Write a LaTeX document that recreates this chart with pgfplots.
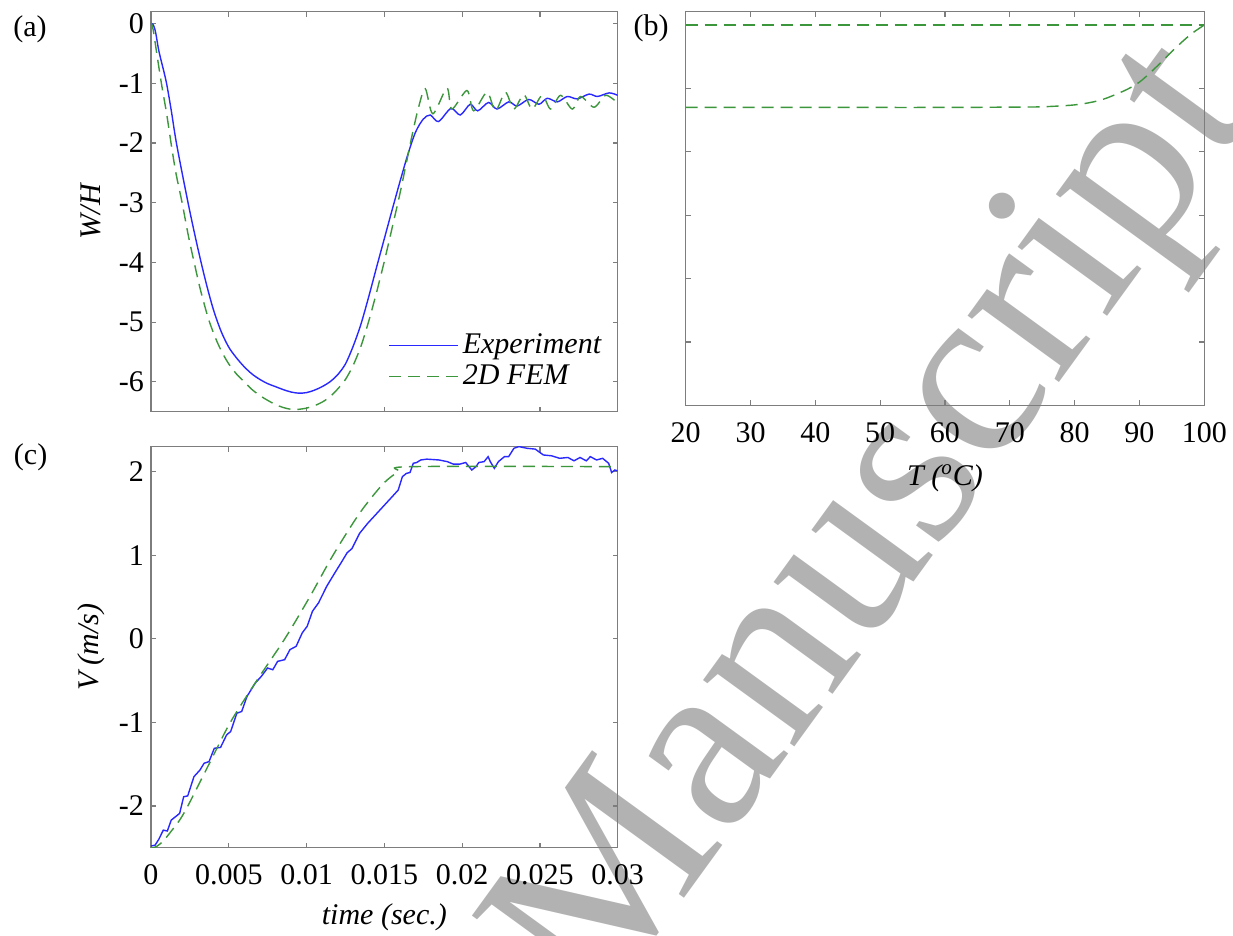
\documentclass[border=0pt]{standalone}
\usepackage{fontspec}
\setmainfont{Liberation Serif}
\usepackage{pgfplots}
\pgfplotsset{compat=1.18}
\definecolor{mblue}{RGB}{40,40,255}
\definecolor{mgreen}{RGB}{60,150,60}
\definecolor{frame}{RGB}{125,125,125}

\pgfplotsset{
  every axis/.append style={
    scale only axis,
    axis line style={frame, line width=0.6pt},
    tick style={frame, line width=0.6pt},
    major tick length=2.5pt,
    tick align=inside,
    scaled ticks=false,
    tick label style={font=\fontsize{15}{18}\selectfont},
    label style={font=\fontsize{15}{18}\selectfont\itshape},
    xticklabel style={yshift=-5pt},
  },
  blueline/.style={color=mblue, line width=0.7pt},
  greenline/.style={color=mgreen, line width=0.7pt, dash pattern=on 6pt off 3.5pt},
}

\begin{document}
\begin{tikzpicture}
\useasboundingbox (0pt,0pt) rectangle (616.5pt,-468pt);
\begin{scope}
\clip (0pt,0pt) rectangle (616.5pt,-468pt);
\node[rotate=54, text=black!30, font=\fontsize{123}{123}\selectfont, inner sep=0pt] at (441.5pt,-265.5pt) {Manuscript};
\end{scope}

% ---------------- (a) ----------------
\begin{axis}[
  at={(75.5pt,-205.85pt)}, anchor=south west,
  width=233.35pt, height=200pt,
  xmin=0, xmax=0.03, ymin=-6.5, ymax=0.2,
  xtick={0,0.005,0.01,0.015,0.02,0.025,0.03}, xticklabels={},
  ytick={-6,-5,-4,-3,-2,-1,0}, yticklabels={-6,-5,-4,-3,-2,-1,0},
  ylabel={W/H}, ylabel style={yshift=2pt},
  legend style={at={(0.495,0.215)}, anchor=north west, draw=none, fill=none,
    font=\fontsize{15}{18}\selectfont\itshape, cells={anchor=west}, row sep=0pt},
  legend image code/.code={\draw[#1] (0pt,0pt) -- (34.5pt,0pt);},
]
\addplot[blueline, smooth] coordinates {
(0,0) (0.00015,-0.02) (0.0003,-0.15) (0.0005,-0.45) (0.00075,-0.72) (0.001,-1.0)
(0.0013,-1.45) (0.0016,-1.95) (0.002,-2.5) (0.0025,-3.15) (0.003,-3.75) (0.0035,-4.3)
(0.004,-4.78) (0.0045,-5.15) (0.005,-5.42) (0.0055,-5.6) (0.006,-5.75) (0.0065,-5.87)
(0.007,-5.96) (0.0075,-6.03) (0.008,-6.08) (0.0085,-6.13) (0.009,-6.17) (0.0095,-6.19)
(0.01,-6.18) (0.0105,-6.14) (0.011,-6.08) (0.0115,-6.0) (0.012,-5.88) (0.0125,-5.7)
(0.013,-5.4) (0.0135,-5.03) (0.014,-4.57) (0.0145,-4.08) (0.015,-3.6) (0.0155,-3.12)
(0.016,-2.65) (0.0165,-2.2) (0.017,-1.82) (0.0175,-1.6) (0.01795,-1.53) (0.01848,-1.64)
(0.01928,-1.42) (0.01988,-1.53) (0.02052,-1.35) (0.0210,-1.46) (0.0217,-1.32) (0.02224,-1.43)
(0.0230,-1.31) (0.02353,-1.38) (0.02428,-1.27) (0.02494,-1.35) (0.02547,-1.25) (0.02612,-1.31)
(0.02676,-1.22) (0.0274,-1.26) (0.02816,-1.18) (0.0287,-1.22) (0.02945,-1.16) (0.03,-1.2)
};
\addlegendentry{Experiment}
\addplot[greenline, smooth] coordinates {
(0,0.02) (0.0001,-0.05) (0.0002,-0.2) (0.0004,-0.55) (0.0007,-1.05) (0.001,-1.5)
(0.0013,-2.02) (0.0016,-2.5) (0.002,-3.0) (0.0024,-3.55) (0.0028,-4.03) (0.0032,-4.48)
(0.0037,-4.95) (0.0042,-5.3) (0.0046,-5.52) (0.005,-5.7) (0.0055,-5.87) (0.006,-6.0)
(0.0065,-6.13) (0.007,-6.23) (0.0075,-6.31) (0.008,-6.38) (0.0085,-6.43) (0.009,-6.46)
(0.0095,-6.46) (0.01,-6.44) (0.0105,-6.4) (0.011,-6.34) (0.0115,-6.25) (0.012,-6.12)
(0.0125,-5.96) (0.013,-5.72) (0.0135,-5.4) (0.014,-4.98) (0.0145,-4.5) (0.015,-3.98)
(0.0155,-3.42) (0.016,-2.85) (0.0164,-2.35) (0.0168,-1.85) (0.0172,-1.4) (0.01763,-1.09)
(0.01812,-1.51) (0.01902,-1.08) (0.01934,-1.43) (0.02031,-1.12) (0.02074,-1.46) (0.0216,-1.15)
(0.02214,-1.46) (0.02278,-1.15) (0.02332,-1.43) (0.02396,-1.19) (0.0245,-1.43) (0.02515,-1.2)
(0.02569,-1.43) (0.02633,-1.2) (0.02708,-1.43) (0.02762,-1.22) (0.02848,-1.4) (0.02923,-1.2)
(0.03,-1.33)
};
\addlegendentry{2D FEM}
\end{axis}

% ---------------- (b) ----------------
\begin{axis}[
  at={(342.85pt,-202.7pt)}, anchor=south west,
  width=259.3pt, height=196.85pt,
  xmin=20, xmax=100, ymin=0, ymax=6.21,
  xtick={20,30,40,50,60,70,80,90,100}, xticklabels={20,30,40,50,60,70,80,90,100},
  ytick={0,1,2,3,4,5,6}, yticklabels={},
  xlabel={T (\textsuperscript{o}C)}, xlabel style={yshift=-4pt},
]
\addplot[greenline] coordinates {(20,6.0) (100,6.0)};
\addplot[greenline, smooth] coordinates {
(20,4.70) (40,4.70) (60,4.70) (70,4.705) (75,4.71) (80,4.74) (83,4.79) (85,4.85)
(88,4.98) (90,5.10) (92,5.28) (94,5.48) (96,5.68) (98,5.86) (100,6.0)
};
\end{axis}

% ---------------- (c) ----------------
\begin{axis}[
  at={(75.5pt,-423.85pt)}, anchor=south west,
  width=233.35pt, height=200.55pt,
  xmin=0, xmax=0.03, ymin=-2.5, ymax=2.3,
  xtick={0,0.005,0.01,0.015,0.02,0.025,0.03},
  xticklabels={0,0.005,0.01,0.015,0.02,0.025,0.03},
  ytick={-2,-1,0,1,2}, yticklabels={-2,-1,0,1,2},
  xlabel={time (sec.)}, xlabel style={yshift=-2.5pt},
  ylabel={V (m/s)},
]
\addplot[blueline] coordinates {
(0,-2.48) (0.00026,-2.47) (0.0005,-2.4) (0.00079,-2.29) (0.00105,-2.3) (0.0013,-2.17)
(0.00184,-2.09) (0.0021,-1.89) (0.00236,-1.88) (0.00276,-1.65) (0.00315,-1.57) (0.00341,-1.49)
(0.00373,-1.47) (0.00407,-1.31) (0.00447,-1.3) (0.00486,-1.15) (0.00512,-1.11) (0.00552,-0.89)
(0.00583,-0.87) (0.00617,-0.69) (0.0067,-0.53) (0.00709,-0.45) (0.00749,-0.35) (0.00783,-0.37)
(0.00814,-0.27) (0.00859,-0.25) (0.00893,-0.13) (0.00933,-0.09) (0.00972,0.07) (0.01004,0.15)
(0.01038,0.33) (0.01077,0.43) (0.0113,0.63) (0.01182,0.79) (0.01222,0.91) (0.01261,1.03)
(0.01292,1.08) (0.0134,1.26) (0.01392,1.38) (0.01471,1.54) (0.0155,1.7) (0.01589,1.78)
(0.01616,1.94) (0.01642,1.98) (0.01665,1.99) (0.01686,2.1) (0.01708,2.11) (0.01734,2.14)
(0.01773,2.15) (0.01852,2.14) (0.01905,2.12) (0.01944,2.09) (0.01984,2.09) (0.02023,2.11)
(0.02062,2.02) (0.02089,2.06) (0.02107,2.11) (0.02141,2.12) (0.02167,2.18) (0.02181,2.12)
(0.02207,2.04) (0.02233,2.12) (0.02272,2.18) (0.02299,2.18) (0.02333,2.28) (0.02365,2.3)
(0.02417,2.28) (0.0247,2.27) (0.02522,2.2) (0.02575,2.19) (0.02627,2.16) (0.0268,2.17)
(0.02719,2.13) (0.02758,2.17) (0.02798,2.13) (0.02824,2.18) (0.02864,2.14) (0.02903,2.16)
(0.02942,2.1) (0.02961,1.99) (0.02982,2.02) (0.03,2.01)
};
\addplot[greenline, smooth] coordinates {
(0,-2.5) (0.00013,-2.5) (0.0004,-2.48) (0.00079,-2.42) (0.00131,-2.3) (0.00184,-2.17)
(0.00237,-2.0) (0.00373,-1.5) (0.0051,-1.0) (0.0068,-0.5) (0.0086,0) (0.0102,0.5)
(0.0117,1.0) (0.0134,1.5) (0.0149,1.85) (0.0159,2.0) (0.0167,2.06) (0.03,2.06)
};
\end{axis}

\node[font=\fontsize{15}{18}\selectfont] at (15pt,-14.5pt) {(a)};
\node[font=\fontsize{15}{18}\selectfont] at (325.5pt,-14.25pt) {(b)};
\node[font=\fontsize{15}{18}\selectfont] at (15.3pt,-228.75pt) {(c)};
\end{tikzpicture}
\end{document}
